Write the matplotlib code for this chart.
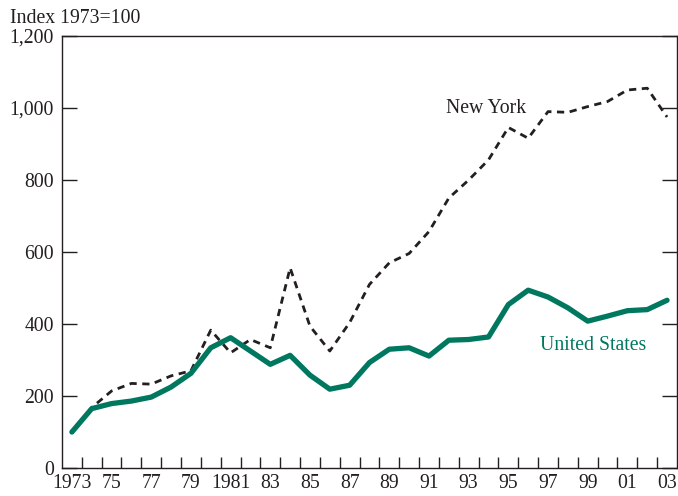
import numpy as np
import matplotlib.pyplot as plt

# Index 1973=100
years = list(range(1973, 2004))
us = [100, 165, 179, 186, 197, 225, 263, 334, 362, 325, 288, 313, 258, 219,
      230, 293, 330, 334, 311, 355, 357, 364, 454, 494, 475, 445, 408, 422,
      437, 440, 466]
ny = [100, 168, 214, 235, 233, 256, 270, 383, 320, 357, 334, 556, 394, 325,
      404, 510, 570, 596, 657, 750, 800, 856, 946, 916, 990, 988, 1004, 1018,
      1050, 1055, 975]

xtick_years = list(range(1973, 2004, 2))
xtick_labels = ['1973', '75', '77', '79', '1981', '83', '85', '87', '89',
                '91', '93', '95', '97', '99', '01', '03']
yticks = [0, 200, 400, 600, 800, 1000, 1200]
ytick_labels = ['0', '200', '400', '600', '800', '1,000', '1,200']

GREEN = '#00785f'
TXT = '#231f20'
FS = 14.2

plt.rcParams['font.family'] = ['Liberation Serif', 'DejaVu Serif']

fig = plt.figure(figsize=(6.78, 4.96), dpi=100)
ax = fig.add_axes([0.0914, 0.0564, 0.9071, 0.8710])

ax.plot(years, ny, color=TXT, lw=2.0, dashes=(2.6, 2.0))
ax.plot(years, us, color=GREEN, lw=3.8, solid_capstyle='round',
        solid_joinstyle='round')

ax.set_xlim(1972.5, 2003.5)
ax.set_ylim(0, 1200)

ax.set_yticks(yticks)
ax.set_yticklabels(ytick_labels)
ax.set_xticks(xtick_years)
ax.set_xticklabels(xtick_labels)
ax.set_xticks(np.arange(1973.5, 2003, 1.0), minor=True)

ax.tick_params(axis='x', which='major', length=0, pad=4, labelsize=FS,
               colors=TXT)
ax.tick_params(axis='x', which='minor', direction='in', length=8,
               width=1.0, color=TXT)
ax.tick_params(axis='y', which='major', direction='in', length=11,
               width=1.0, left=True, right=True, pad=6, labelsize=FS,
               colors=TXT)

for s in ax.spines.values():
    s.set_color(TXT)
    s.set_linewidth(1.0)

ax.text(1991.85, 1000, 'New York', fontsize=FS, color=TXT,
        ha='left', va='center')
ax.text(1996.6, 340, 'United States', fontsize=FS, color=GREEN,
        ha='left', va='center')

fig.text(0.015, 0.962, 'Index 1973=100', fontsize=FS, color=TXT,
         ha='left', va='center')

fig.savefig('out.png', dpi=100)
